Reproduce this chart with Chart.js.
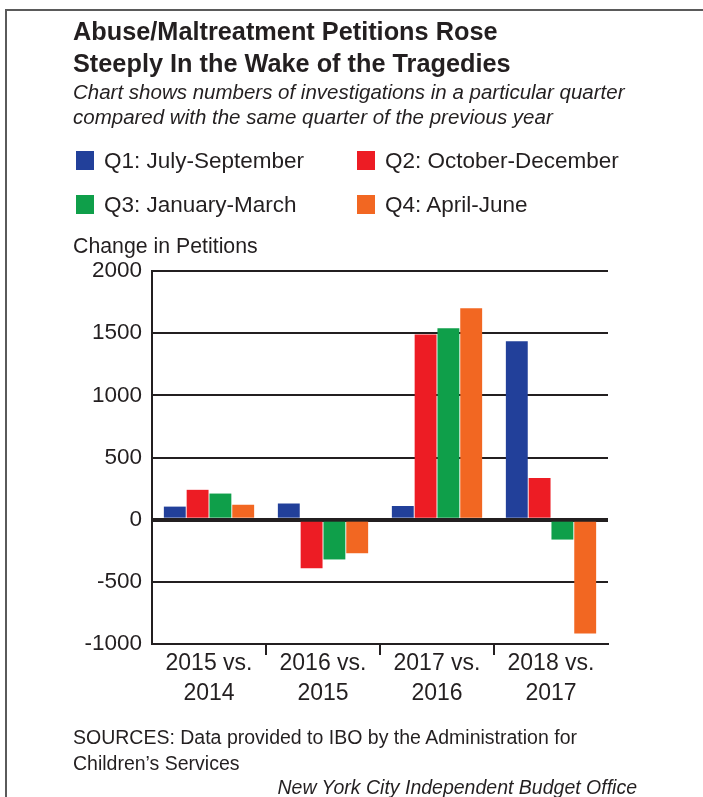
<!DOCTYPE html>
<html>
<head>
<meta charset="utf-8">
<script src="https://cdn.jsdelivr.net/npm/chart.js@4/dist/chart.umd.min.js"></script>
<style>
  html, body { margin: 0; padding: 0; background: #fff; }
  body { width: 703px; height: 797px; position: relative; overflow: hidden;
         font-family: "Liberation Sans", Arial, sans-serif; color: #231f20; }
  .t { position: absolute; line-height: 1; white-space: nowrap; }
  #frame { position: absolute; left: 5px; top: 9px; width: 720px; height: 820px;
           border-top: 2px solid #5a5a5a; border-left: 2px solid #5a5a5a; }
  #chart { position: absolute; left: 0; top: 0; }
  .sw { position: absolute; width: 18px; height: 19px; }
</style>
</head>
<body>
<div id="frame"></div>
<canvas id="chart" width="703" height="797"></canvas>

<div class="t" style="left:73px;top:19px;font-size:25.3px;font-weight:bold;">Abuse/Maltreatment Petitions Rose</div>
<div class="t" style="left:73px;top:51px;font-size:25.3px;font-weight:bold;">Steeply In the Wake of the Tragedies</div>
<div class="t" style="left:73px;top:82px;font-size:20.5px;font-style:italic;">Chart shows numbers of investigations in a particular quarter</div>
<div class="t" style="left:73px;top:107px;font-size:20.5px;font-style:italic;">compared with the same quarter of the previous year</div>
<div id="legend"></div>
<div class="t" style="left:73px;top:236px;font-size:21.3px;">Change in Petitions</div>
<div class="t" style="left:73px;top:728px;font-size:19.5px;">SOURCES: Data provided to IBO by the Administration for</div>
<div class="t" style="left:73px;top:754px;font-size:19.5px;">Children’s Services</div>
<div class="t" style="right:66px;top:778px;font-size:19.5px;font-style:italic;">New York City Independent Budget Office</div>

<script>
// Year-over-year change in abuse/maltreatment petitions, by quarter
const categories = [["2015 vs.", "2014"], ["2016 vs.", "2015"], ["2017 vs.", "2016"], ["2018 vs.", "2017"]];
const seriesNames = ["Q1: July-September", "Q2: October-December", "Q3: January-March", "Q4: April-June"];
const q1 = [105, 130, 110, 1435];
const q2 = [240, -390, 1490, 335];
const q3 = [210, -320, 1540, -160];
const q4 = [120, -270, 1700, -915];
const yMin = -1000, yMax = 2000, yStep = 500;

const colors = ["#22409a", "#ed1c24", "#0f9f4a", "#f26722"];
const seriesValues = [q1, q2, q3, q4];
const ink = "#231f20";

// Two-column legend above the plot
const legendSlots = [[76, 151], [357, 151], [76, 195], [357, 195]];
const legendEl = document.getElementById("legend");
seriesNames.forEach((name, i) => {
  const [x, y] = legendSlots[i];
  const sw = document.createElement("div");
  sw.className = "sw";
  sw.style.left = x + "px"; sw.style.top = y + "px"; sw.style.background = colors[i];
  legendEl.appendChild(sw);
  const tx = document.createElement("div");
  tx.className = "t";
  tx.style.left = (x + 28) + "px"; tx.style.top = (y - 1.5) + "px"; tx.style.fontSize = "22.5px";
  tx.textContent = name;
  legendEl.appendChild(tx);
});

new Chart(document.getElementById("chart"), {
  type: "bar",
  data: {
    labels: categories,
    datasets: seriesValues.map((vals, i) => ({
      label: seriesNames[i],
      data: vals,
      backgroundColor: colors[i],
      borderWidth: 0,
      categoryPercentage: 0.8,
      barPercentage: 0.96
    }))
  },
  options: {
    responsive: false,
    devicePixelRatio: 1,
    animation: false,
    layout: { padding: { top: 271, left: 0, right: 95, bottom: 83 } },
    plugins: { legend: { display: false }, tooltip: { enabled: false }, title: { display: false } },
    scales: {
      y: {
        min: yMin, max: yMax,
        ticks: { stepSize: yStep, color: ink, padding: 10,
                 callback: v => String(v),
                 font: { family: "'Liberation Sans', Arial, sans-serif", size: 22.5 } },
        grid: { color: ink, drawTicks: false,
                lineWidth: ctx => (ctx.tick && ctx.tick.value === 0 ? 4 : 2) },
        border: { display: true, color: ink, width: 2 },
        afterFit: s => { s.width = 152; }
      },
      x: {
        ticks: { color: ink, padding: -6, maxRotation: 0, autoSkip: false,
                 font: { family: "'Liberation Sans', Arial, sans-serif", size: 23, lineHeight: 1.3 } },
        grid: { offset: true, drawOnChartArea: false, tickLength: 11, lineWidth: 2,
                // only the inner category boundaries get a tick mark
                color: ctx => (ctx.type === "tick" && ctx.index > 0 && ctx.index < categories.length ? ink : "rgba(0,0,0,0)") },
        border: { display: true, color: ink, width: 2 },
        afterFit: s => { s.height = 70; }
      }
    }
  }
});
</script>
</body>
</html>
